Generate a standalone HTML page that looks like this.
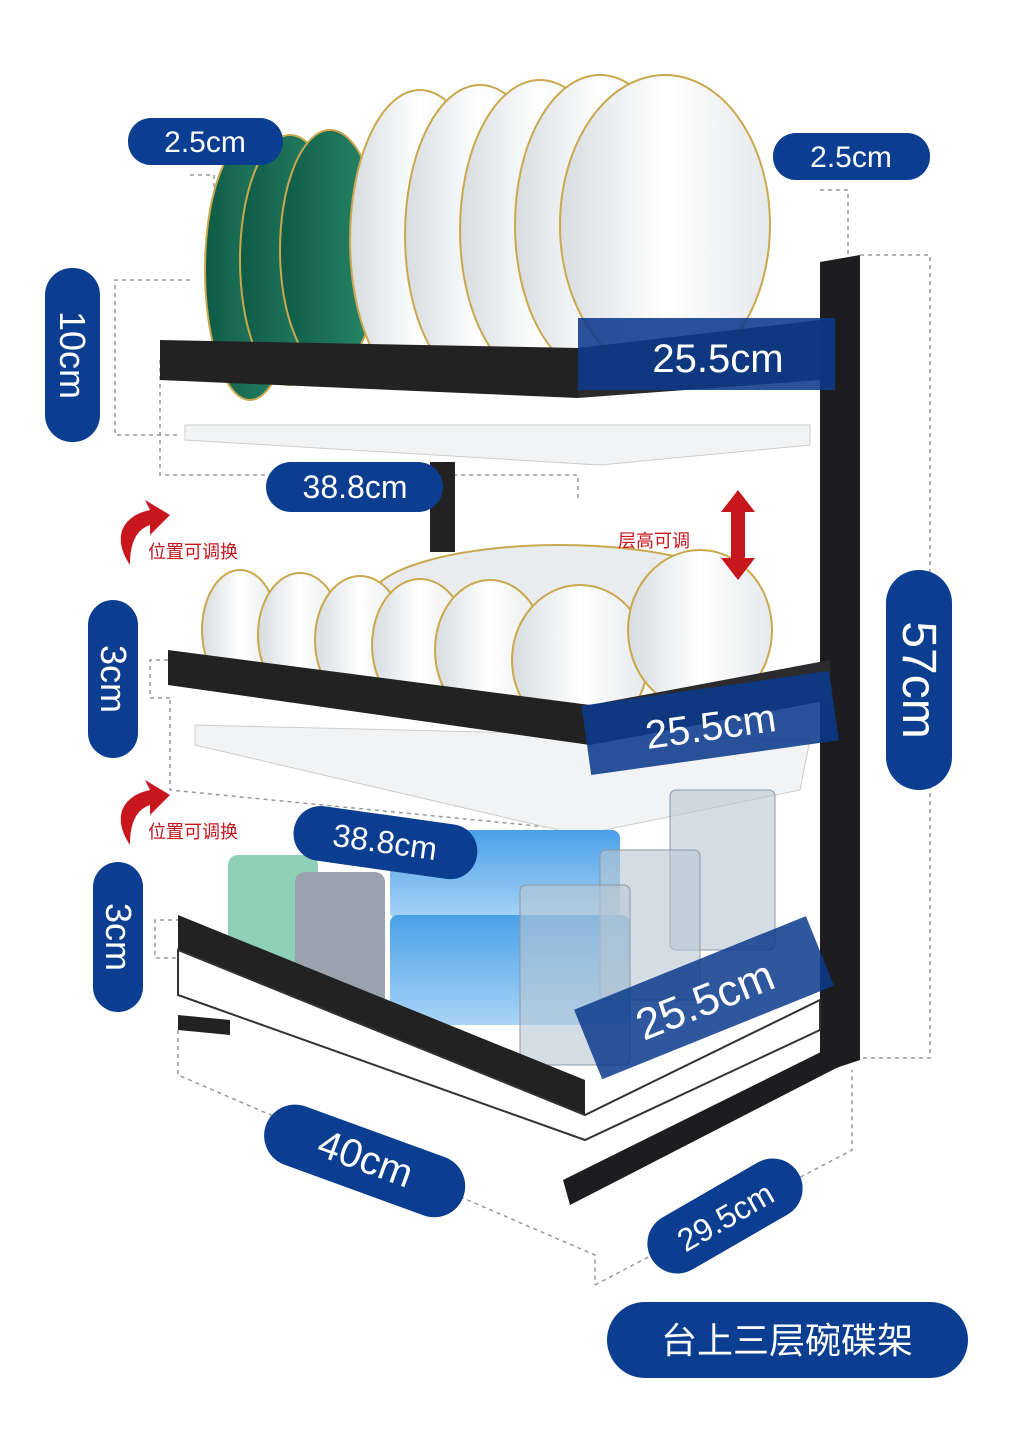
<!DOCTYPE html>
<html><head><meta charset="utf-8"><style>
html,body{margin:0;padding:0;background:#fff;}
svg{display:block}
text{font-family:"Liberation Sans","Noto Sans CJK SC",sans-serif;}
</style></head><body>
<svg width="1024" height="1431" viewBox="0 0 1024 1431" xmlns="http://www.w3.org/2000/svg">
<defs>
<linearGradient id="plate" x1="0" x2="1"><stop offset="0" stop-color="#d8dcdf"/><stop offset="0.5" stop-color="#ffffff"/><stop offset="1" stop-color="#e6e9eb"/></linearGradient>
<linearGradient id="green" x1="0" x2="1"><stop offset="0" stop-color="#0f5a45"/><stop offset="1" stop-color="#2a8a6a"/></linearGradient>
<linearGradient id="box" x1="0" x2="0" y1="0" y2="1"><stop offset="0" stop-color="#4aa0e8"/><stop offset="1" stop-color="#a9d4f5"/></linearGradient>
</defs>
<g fill="none" stroke="#999" stroke-dasharray="4 4" stroke-width="1.5">
<path d="M190 175 H214 V290"/>
<path d="M820 190 H848 V255"/>
<path d="M860 255 H930 V1058 H858"/>
<path d="M190 280 H115 V435 H180"/>
<path d="M160 360 V475 H578 V500"/>
<path d="M168 660 H150 V698 H170"/>
<path d="M170 700 V790 L578 830"/>
<path d="M180 920 H155 V958 H178"/>
<path d="M178 1030 V1075 L595 1255 V1285"/>
<path d="M595 1285 L852 1150 V1070"/>
</g>
<!-- post -->
<polygon points="820,262 860,255 860,1060 830,1070 820,1060" fill="#1d1d1f"/>
<polygon points="563,1180 845,1040 852,1060 570,1205" fill="#1d1d1f"/>
<rect x="430" y="462" width="25" height="90" fill="#222"/>
<!-- top shelf plates -->
<g stroke="#c9a84e" stroke-width="2">
<ellipse cx="250" cy="270" rx="45" ry="130" fill="url(#green)"/>
<ellipse cx="290" cy="260" rx="50" ry="125" fill="url(#green)"/>
<ellipse cx="330" cy="250" rx="50" ry="120" fill="url(#green)"/>
<ellipse cx="420" cy="240" rx="70" ry="150" fill="url(#plate)"/>
<ellipse cx="480" cy="235" rx="75" ry="150" fill="url(#plate)"/>
<ellipse cx="540" cy="230" rx="80" ry="150" fill="url(#plate)"/>
<ellipse cx="600" cy="225" rx="85" ry="150" fill="url(#plate)"/>
<ellipse cx="665" cy="225" rx="105" ry="150" fill="url(#plate)"/>
</g>
<polygon points="185,425 810,425 810,445 600,465 185,440" fill="#f2f3f4" stroke="#ccc"/>
<polygon points="160,340 578,348 578,398 160,380" fill="#222"/>
<polygon points="578,348 820,320 820,380 578,398" fill="#2b2b2e"/>
<!-- middle plates -->
<g stroke="#c9a84e" stroke-width="2">
<ellipse cx="560" cy="600" rx="190" ry="55" fill="#e9ecee"/>
<ellipse cx="240" cy="630" rx="38" ry="60" fill="url(#plate)"/>
<ellipse cx="300" cy="635" rx="42" ry="62" fill="url(#plate)"/>
<ellipse cx="360" cy="640" rx="45" ry="64" fill="url(#plate)"/>
<ellipse cx="420" cy="645" rx="48" ry="66" fill="url(#plate)"/>
<ellipse cx="490" cy="650" rx="55" ry="70" fill="url(#plate)"/>
<ellipse cx="580" cy="660" rx="68" ry="75" fill="url(#plate)"/>
<ellipse cx="700" cy="630" rx="72" ry="80" fill="url(#plate)"/>
</g>
<polygon points="195,725 810,740 800,790 580,835 195,745" fill="#f2f3f4" stroke="#ccc"/>
<polygon points="168,650 590,705 590,745 168,685" fill="#222"/>
<polygon points="590,705 830,660 830,700 590,745" fill="#2b2b2e"/>
<!-- bottom -->
<rect x="228" y="855" width="90" height="130" rx="10" fill="#8fcfb8"/>
<rect x="295" y="872" width="90" height="135" rx="10" fill="#9aa3ad"/>
<rect x="390" y="830" width="230" height="90" rx="8" fill="url(#box)"/>
<rect x="390" y="915" width="240" height="110" rx="8" fill="url(#box)"/>
<g fill="#b8c6d2" fill-opacity="0.6" stroke="#8a98a5">
<rect x="670" y="790" width="105" height="160" rx="6"/>
<rect x="600" y="850" width="100" height="150" rx="6"/>
<rect x="520" y="885" width="110" height="180" rx="6"/>
</g>
<polygon points="178,915 585,1080 585,1115 178,950" fill="#222"/>
<polygon points="178,950 585,1115 820,1000 820,1030 585,1140 178,995" fill="#fff" stroke="#333" stroke-width="2"/>
<polygon points="178,1015 230,1020 230,1035 178,1030" fill="#222"/>
<!-- translucent blue labels -->
<g>
<rect x="578" y="318" width="257" height="72" fill="#0b3a8c" fill-opacity="0.88"/>
<text x="718" y="372" font-size="40" fill="#fff" text-anchor="middle">25.5cm</text>
<g transform="rotate(-8 710 722)">
<rect x="585" y="688" width="250" height="70" fill="#0b3a8c" fill-opacity="0.88"/>
<text x="710" y="740" font-size="40" fill="#fff" text-anchor="middle">25.5cm</text>
</g>
<g transform="rotate(-22 705 1000)">
<rect x="580" y="960" width="250" height="75" fill="#0b3a8c" fill-opacity="0.85"/>
<text x="705" y="1015" font-size="44" fill="#fff" text-anchor="middle">25.5cm</text>
</g>
</g>
<!-- pills -->
<g fill="#0b3d91">
<rect x="128" y="118" width="155" height="47" rx="23"/>
<rect x="773" y="133" width="157" height="47" rx="23"/>
<rect x="45" y="268" width="55" height="174" rx="27"/>
<rect x="266" y="462" width="177" height="50" rx="25"/>
<rect x="88" y="600" width="50" height="158" rx="25"/>
<rect x="93" y="862" width="50" height="150" rx="25"/>
<rect x="886" y="570" width="66" height="220" rx="33"/>
<rect x="607" y="1302" width="361" height="76" rx="38"/>
<rect x="293" y="815" width="185" height="55" rx="27" transform="rotate(8 385 842)"/>
<rect x="260" y="1130" width="210" height="62" rx="31" transform="rotate(20 365 1160)"/>
<rect x="640" y="1186" width="170" height="60" rx="30" transform="rotate(-30 725 1216)"/>
</g>
<g fill="#fff" font-size="30" text-anchor="middle">
<text x="205" y="152">2.5cm</text>
<text x="851" y="167">2.5cm</text>
<text x="355" y="498" font-size="32">38.8cm</text>
<text x="385" y="853" font-size="32" transform="rotate(8 385 842)">38.8cm</text>
<text x="365" y="1172" font-size="40" transform="rotate(20 365 1160)">40cm</text>
<text x="725" y="1228" font-size="32" transform="rotate(-30 725 1216)">29.5cm</text>
<text x="72" y="355" font-size="36" transform="rotate(90 72 355)" dy="12">10cm</text>
<text x="113" y="679" font-size="36" transform="rotate(90 113 679)" dy="12">3cm</text>
<text x="118" y="937" font-size="36" transform="rotate(90 118 937)" dy="12">3cm</text>
<text x="919" y="680" font-size="48" transform="rotate(90 919 680)" dy="16">57cm</text>
<text x="787" y="1353" font-size="36">台上三层碗碟架</text>
</g>
<!-- red arrows -->
<g fill="#c8161d">
<path d="M130 565 C110 535 125 515 150 510 L145 500 L170 515 L150 535 L150 525 C135 530 130 545 130 565Z"/>
<path d="M130 845 C110 815 125 795 150 790 L145 780 L170 795 L150 815 L150 805 C135 810 130 825 130 845Z"/>
<polygon points="738,490 755,512 745,512 745,558 755,558 738,580 721,558 731,558 731,512 721,512"/>
</g>
<g fill="#c8161d" font-size="18">
<text x="148" y="558">位置可调换</text>
<text x="148" y="838">位置可调换</text>
<text x="618" y="547">层高可调</text>
</g>
</svg>
</body></html>
